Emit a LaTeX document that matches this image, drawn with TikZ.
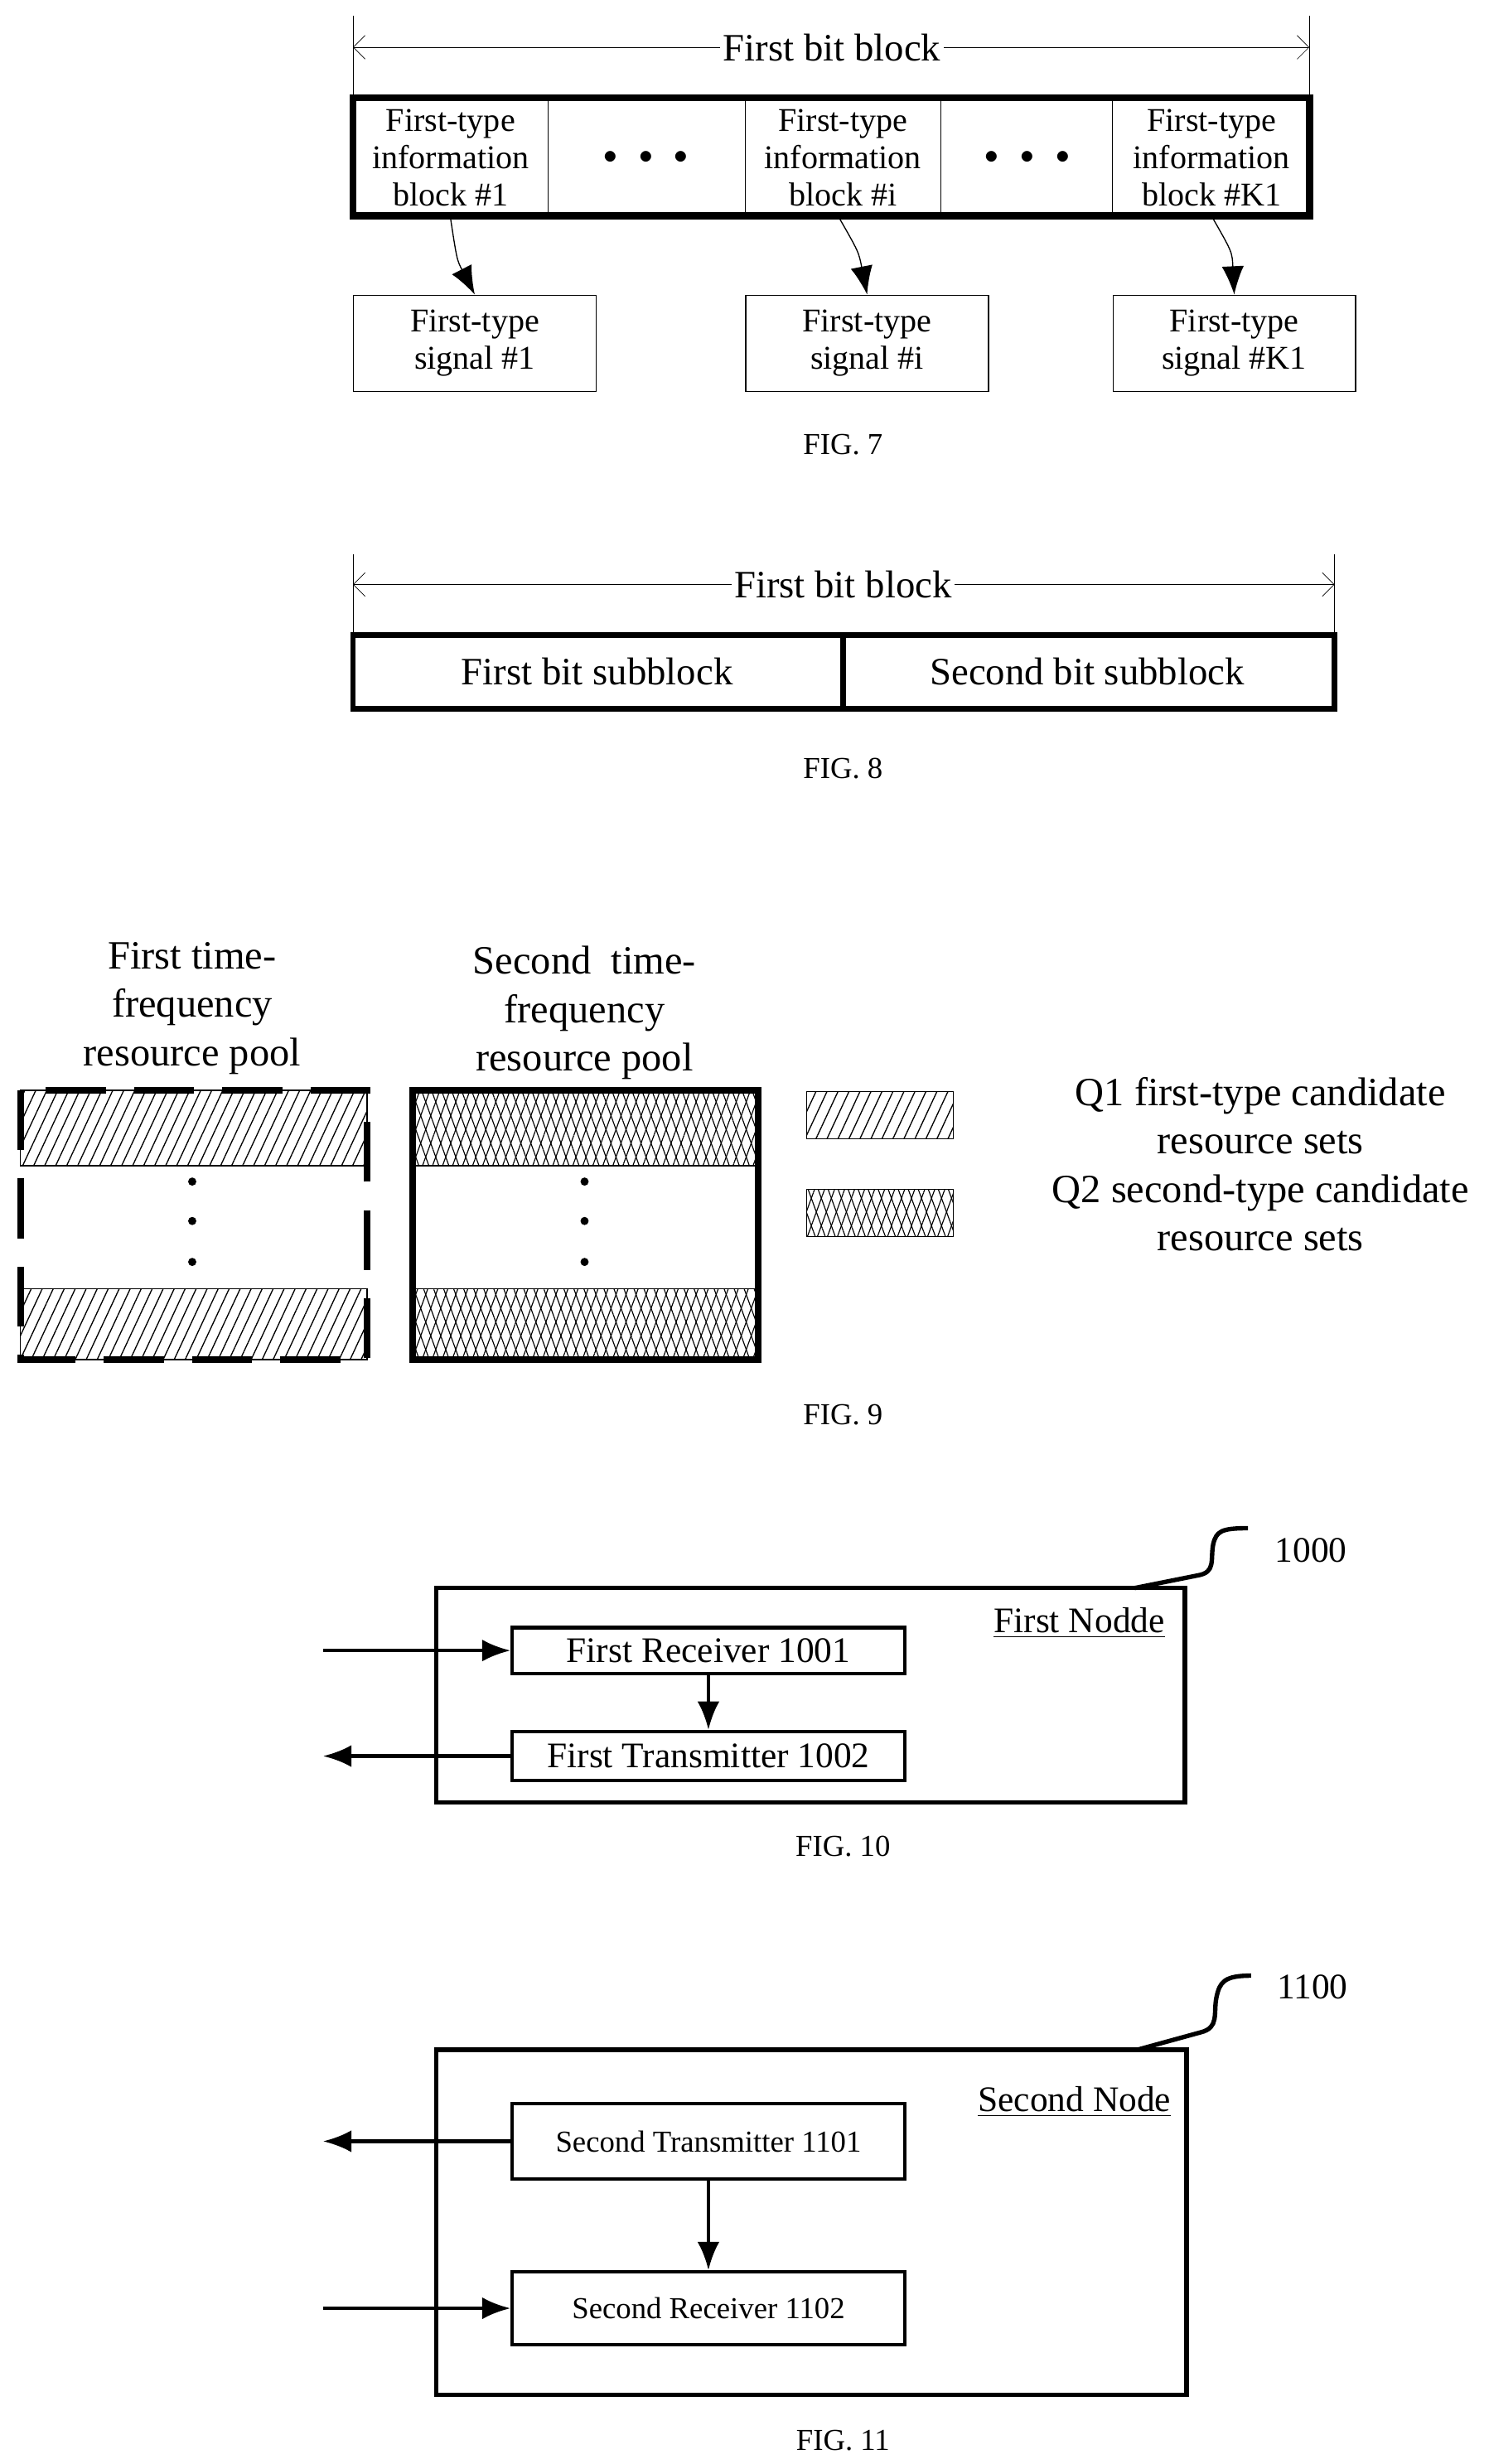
\documentclass[tikz,border=0pt]{standalone}
\usepackage{fontspec}
\setmainfont{Liberation Serif}
\usetikzlibrary{arrows.meta,patterns.meta}

\begin{document}
\begin{tikzpicture}[x=0.02cm,y=-0.02cm,
    cell/.style={align=center,font=\fontsize{12}{13.5}\selectfont},
    figlabel/.style={font=\fontsize{11}{12}\selectfont},
    bigarrow/.style={-{Latex[length=3.6mm,width=2.8mm]}},
    hatchA/.style={pattern={Lines[angle=65,distance=3.6pt,line width=0.4pt]}},
    hatchB/.style={pattern={Lines[angle=70,distance=3.4pt,line width=0.35pt]}},
    hatchC/.style={pattern={Lines[angle=110,distance=3.4pt,line width=0.35pt]}},
    unitbox/.style={draw,line width=1.3pt,inner sep=0pt,minimum width=4.98cm,anchor=north west}]
\useasboundingbox (0,0) rectangle (945,1564);

% FIG. 7
\draw[very thin] (224,10) -- (224,62) (831,10) -- (831,62);
\draw[very thin,{Straight Barb[length=1.5mm]}-{Straight Barb[length=1.5mm]}] (224,30) -- (831,30);
\node[fill=white,inner sep=1pt,font=\fontsize{14}{15}\selectfont] (t7) at (528,30) {First bit block};
\foreach \x in {348,473,597,706} {
    \draw[thin] (\x,62) -- (\x,137);
}
\draw[line width=2.6pt] (224,62) rectangle (831,137);
\node[cell] (ib1) at (286,100) {First-type\\information\\block \#1};
\node[cell] (ibi) at (535,100) {First-type\\information\\block \#i};
\node[cell] (ibk) at (769,100) {First-type\\information\\block \#K1};
\node (dt1) at (410,100) {$\bullet\;\;\bullet\;\;\bullet$};
\node (dt2) at (652,100) {$\bullet\;\;\bullet\;\;\bullet$};
\foreach \n/\x/\t in {s1/224/1, si/473/i, sk/706/K1} {
    \node[draw,thin,cell,minimum width=3.08cm,minimum height=1.22cm,anchor=north west] (\n) at (\x,187) {First-type\\signal \#\t};
}
\draw[thin,bigarrow] (286,139) .. controls (290,165) .. (s1.north);
\draw[thin,bigarrow] (533,139) .. controls (545,160) .. (si.north);
\draw[thin,bigarrow] (770,139) .. controls (782,160) .. (sk.north);
\node[figlabel] (f7) at (535,282) {FIG. 7};

% FIG. 8
\draw[very thin] (224,352) -- (224,403) (847,352) -- (847,403);
\draw[very thin,{Straight Barb[length=1.5mm]}-{Straight Barb[length=1.5mm]}] (224,371) -- (847,371);
\node[fill=white,inner sep=1pt,font=\fontsize{14}{15}\selectfont] (t8) at (535,371) {First bit block};
\draw[line width=2pt] (224,403) rectangle (847,450) (535,403) -- (535,450);
\node[font=\fontsize{14}{15}\selectfont] (sb1) at (379,426) {First bit subblock};
\node[font=\fontsize{14}{15}\selectfont] (sb2) at (690,426) {Second bit subblock};
\node[figlabel] (f8) at (535,488) {FIG. 8};

% FIG. 9
\node[align=center,font=\fontsize{14.5}{17.5}\selectfont] (p1) at (122,640) {First time-\\frequency\\resource pool};
\node[align=center,font=\fontsize{14.5}{17.5}\selectfont] (p2) at (371,643) {Second\ \ time-\\frequency\\resource pool};
\draw[hatchA,thin] (13,692) rectangle (233,740) (13,818) rectangle (233,863);
\draw[line width=2.4pt,dash pattern=on 0.76cm off 0.36cm] (13,692) rectangle (233,863);
\fill[hatchB] (262,692) rectangle (481,740) (262,818) rectangle (481,863);
\draw[hatchC,thin] (262,692) rectangle (481,740) (262,818) rectangle (481,863);
\draw[line width=2.4pt] (262,692) rectangle (481,863);
\foreach \y in {750,775,801} {
    \fill (122,\y) circle (2.6);
    \fill (371,\y) circle (2.6);
}
\draw[hatchA,thin] (512,693) rectangle (605,723);
\fill[hatchB] (512,755) rectangle (605,785);
\draw[hatchC,thin] (512,755) rectangle (605,785);
\node[align=center,font=\fontsize{14.5}{17.5}\selectfont] (lg) at (800,739) {Q1 first-type candidate\\resource sets\\Q2 second-type candidate\\resource sets};
\node[figlabel] (f9) at (535,898) {FIG. 9};

% FIG. 10
\draw[line width=1.6pt] (277,1008) rectangle (752,1144);
\node[unitbox,minimum height=0.58cm,font=\fontsize{13}{14}\selectfont] (rx1) at (324,1032) {First Receiver 1001};
\node[unitbox,minimum height=0.62cm,font=\fontsize{13}{14}\selectfont] (tx1) at (324,1098) {First Transmitter 1002};
\coordinate (in10) at ([xshift=-2.38cm]rx1.west);
\coordinate (out10) at ([xshift=-2.38cm]tx1.west);
\draw[line width=1.3pt,bigarrow] (in10) -- (rx1.west);
\draw[line width=1.3pt,bigarrow] (tx1.west) -- (out10);
\draw[line width=1.3pt,bigarrow] (rx1.south) -- (tx1.north);
\node[font=\fontsize{13}{14}\selectfont,inner sep=1pt] (n10) at (685,1030) {\underline{First Nodde}};
\draw[line width=1.6pt] (720,1008) -- (760,1000) .. controls (772,998) and (768,990) .. (770,980) .. controls (772,972) and (775,970) .. (792,970);
\node[font=\fontsize{13}{14}\selectfont] (l10) at (832,984) {1000};
\node[figlabel] (f10) at (535,1172) {FIG. 10};

% FIG. 11
\draw[line width=1.6pt] (277,1301) rectangle (753,1520);
\node[unitbox,minimum height=0.96cm,font=\fontsize{11}{12}\selectfont] (tx2) at (324,1334) {Second Transmitter 1101};
\node[unitbox,minimum height=0.92cm,font=\fontsize{11}{12}\selectfont] (rx2) at (324,1441) {Second Receiver 1102};
\coordinate (out11) at ([xshift=-2.38cm]tx2.west);
\coordinate (in11) at ([xshift=-2.38cm]rx2.west);
\draw[line width=1.3pt,bigarrow] (tx2.west) -- (out11);
\draw[line width=1.3pt,bigarrow] (in11) -- (rx2.west);
\draw[line width=1.3pt,bigarrow] (tx2.south) -- (rx2.north);
\node[font=\fontsize{13}{14}\selectfont,inner sep=1pt] (n11) at (682,1334) {\underline{Second Node}};
\draw[line width=1.6pt] (722,1301) -- (762,1290) .. controls (774,1287) and (770,1278) .. (772,1268) .. controls (774,1258) and (777,1254) .. (794,1254);
\node[font=\fontsize{13}{14}\selectfont] (l11) at (833,1261) {1100};
\node[figlabel] (f11) at (535,1549) {FIG. 11};
\end{tikzpicture}
\end{document}
